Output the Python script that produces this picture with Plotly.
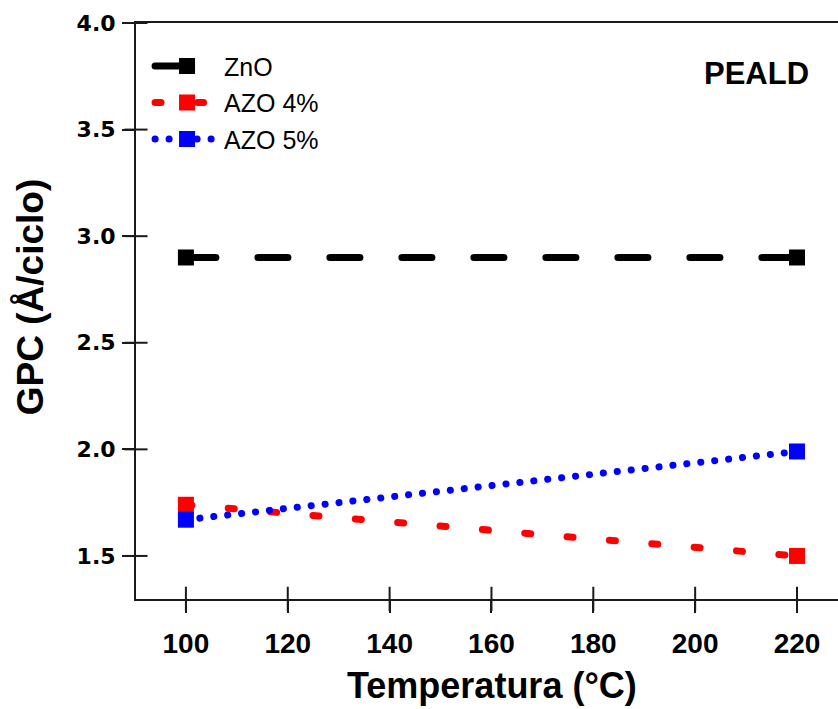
import plotly.graph_objects as go

# Data
temperatures = [100, 220]
gpc_zno = [2.90, 2.90]
gpc_azo4 = [1.74, 1.50]
gpc_azo5 = [1.67, 1.99]
series_names = ["ZnO", "AZO 4%", "AZO 5%"]
x_ticks = [100, 120, 140, 160, 180, 200, 220]
y_ticks = [1.5, 2.0, 2.5, 3.0, 3.5, 4.0]

X_RANGE = [90.2, 228.05]
Y_RANGE = [1.298, 4.0]
AXIS_COLOR = "#1a1a1a"

fig = go.Figure()

styles = [
    (gpc_zno, "#000000", 7, "30px,42px"),
    (gpc_azo4, "#ff0000", 7, "6px,36.5px"),
    (gpc_azo5, "#0000ff", 7, "0.1px,13.9px"),
]
for name, (vals, color, w, dash) in zip(series_names, styles):
    fig.add_trace(go.Scatter(
        x=temperatures, y=vals, name=name, mode="lines+markers",
        legendgroup=name,
        line=dict(color=color, width=w, dash=dash),
        marker=dict(symbol="square", size=16, color=color, line=dict(width=0)),
    ))

# crossing tick marks (the reference ticks cross the axis lines)
fig.add_trace(go.Scatter(
    x=x_ticks, y=[Y_RANGE[0]] * len(x_ticks), mode="markers",
    marker=dict(symbol="line-ns-open", size=17.5, color=AXIS_COLOR,
                line=dict(width=2, color=AXIS_COLOR)),
    cliponaxis=False, showlegend=False, hoverinfo="skip",
))
fig.add_trace(go.Scatter(
    x=[X_RANGE[0]] * len(y_ticks), y=y_ticks, mode="markers",
    marker=dict(symbol="line-ew-open", size=16.5, color=AXIS_COLOR,
                line=dict(width=2, color=AXIS_COLOR)),
    cliponaxis=False, showlegend=False, hoverinfo="skip",
))

axis_common = dict(
    showline=True, linecolor=AXIS_COLOR, linewidth=2,
    ticks="outside", ticklen=12, tickwidth=2, tickcolor=AXIS_COLOR,
    showgrid=False, zeroline=False,
)

fig.update_layout(
    width=838, height=709,
    margin=dict(l=136, r=0, t=23, b=110),
    paper_bgcolor="white", plot_bgcolor="white",
    font=dict(family="Liberation Sans, Arial, sans-serif", color="black"),
    xaxis=dict(range=X_RANGE, tickvals=x_ticks, mirror=True,
               tickfont=dict(family="Liberation Sans, Arial", size=28, color="black", weight="bold"),
               ticklabelstandoff=6,
               **axis_common),
    yaxis=dict(range=Y_RANGE, tickvals=y_ticks, tickformat=".1f", mirror=False,
               tickfont=dict(family="DejaVu Sans", size=22, color="black", weight="bold"),
               ticklabelstandoff=2,
               **axis_common),
    legend=dict(x=0.02, y=0.965, xanchor="left", yanchor="top",
                bgcolor="rgba(0,0,0,0)", borderwidth=0,
                font=dict(family="Liberation Sans, Arial", size=25, color="black"),
                tracegroupgap=1, itemwidth=64),
    showlegend=True,
    annotations=[
        dict(text="<b>Temperatura (°C)</b>", xref="paper", yref="paper",
             x=0.507, y=-0.151, xanchor="center", yanchor="middle", showarrow=False,
             font=dict(family="Liberation Sans, Arial", size=36, color="black")),
        dict(text="<b>GPC (Å/ciclo)</b>", xref="paper", yref="paper",
             x=-0.151, y=0.524, xanchor="center", yanchor="middle", showarrow=False,
             textangle=-90,
             font=dict(family="Liberation Sans, Arial", size=37, color="black")),
        dict(text="<b>PEALD</b>", xref="paper", yref="paper",
             x=0.8846, y=0.913, xanchor="center", yanchor="middle", showarrow=False,
             font=dict(family="Liberation Sans, Arial", size=31, color="black")),
    ],
)

post = """
var s = document.createElement('style');
s.innerHTML = '.js-line { stroke-linecap: round !important; }';
document.head.appendChild(s);
"""
fig.write_html("out.html", post_script=post)
